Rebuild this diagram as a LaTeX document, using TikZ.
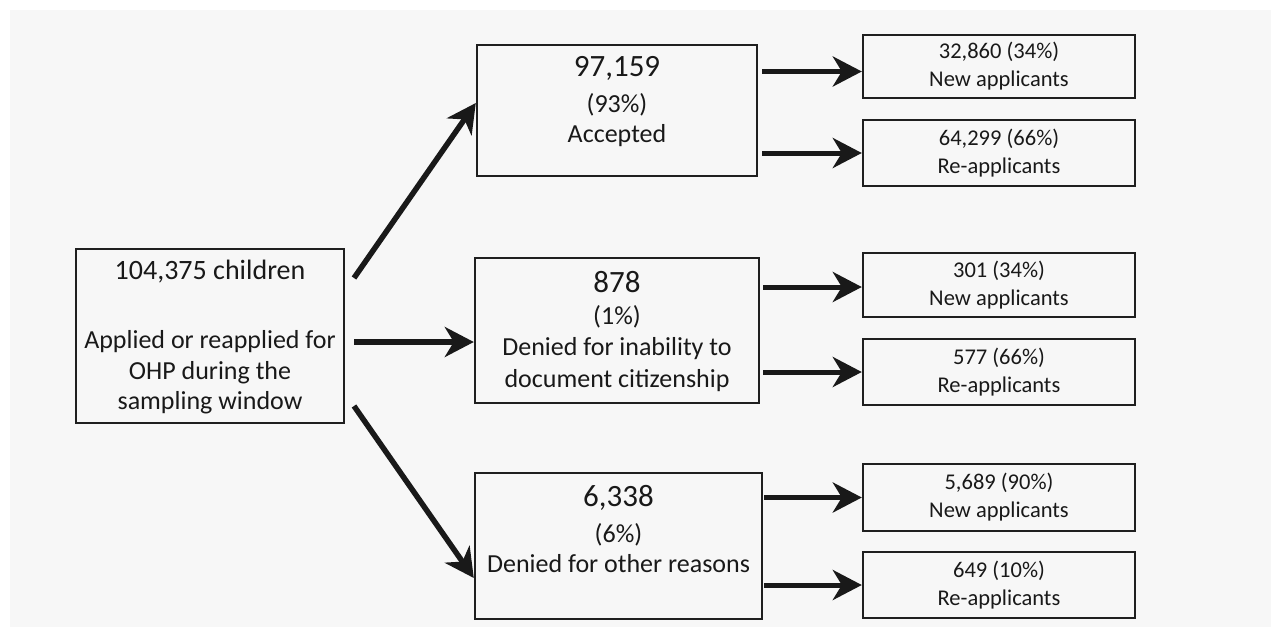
\documentclass[tikz,border=0pt]{standalone}
\usepackage{fontspec}
\setmainfont{Carlito}
\usetikzlibrary{arrows.meta,calc}
\begin{document}
\begin{tikzpicture}[x=1pt,y=-1pt,
  boxline/.style={draw=black!88, line width=2.4pt, inner sep=0pt},
  bigbox/.style={boxline},
  smallbox/.style={boxline, minimum width=272pt, align=center, text=black!90,
    font=\fontsize{22.5}{28}\selectfont},
  numtext/.style={inner sep=0pt, text=black!90, font=\fontsize{31}{36}\selectfont},
  bodytext/.style={inner sep=0pt, align=center, text=black!90, font=\fontsize{26}{30.5}\selectfont},
  bigarrow/.style={draw=black!90, line width=5.5pt, -{Stealth[length=29pt, width=30pt, inset=9pt]}},
  smallarrow/.style={draw=black!90, line width=5pt, -{Stealth[length=29pt, width=30pt, inset=9pt]}}
]
% page and scanned-paper background
\useasboundingbox (0,0) rectangle (1271,627);
\fill[white] (0,0) rectangle (1271,627);
\fill[black!3] (10,10) rectangle (1271,627);

% left box
\node[bigbox, minimum width=268pt, minimum height=174pt] (L) at (210,336) {};
\node[bodytext, font=\fontsize{28}{32}\selectfont] (Lt) at (210,272) {104,375 children};
\node[bodytext] (Lb) at (210,372.5) {Applied or reapplied for\\OHP during the\\sampling window};

% accepted box
\node[bigbox, minimum width=280pt, minimum height=131pt] (A) at (617,110.5) {};
\node[numtext] (An) at (617,68) {97,159};
\node[bodytext] (At) at (617,120) {(93\%)\\Accepted};

% denied citizenship box
\node[bigbox, minimum width=284pt, minimum height=145pt] (D) at (617,330.5) {};
\node[numtext] (Dn) at (617,282) {878};
\node[bodytext, font=\fontsize{26}{31.5}\selectfont] (Dt) at (617,348.5) {(1\%)\\Denied for inability to\\document citizenship};

% denied other box
\node[bigbox, minimum width=287pt, minimum height=146pt] (O) at (618.5,546) {};
\node[numtext] (On) at (618.5,498) {6,338};
\node[bodytext] (Ot) at (618.5,548) {(6\%)\\Denied for other reasons};

% small boxes
\node[smallbox, minimum height=63pt] (S1) at (999,66.5) {32,860 (34\%)\\New applicants};
\node[smallbox, minimum height=66pt] (S2) at (999,153) {64,299 (66\%)\\Re-applicants};
\node[smallbox, minimum height=64pt] (S3) at (999,285) {301 (34\%)\\New applicants};
\node[smallbox, minimum height=66pt] (S4) at (999,372) {577 (66\%)\\Re-applicants};
\node[smallbox, minimum height=67pt] (S5) at (999,497.5) {5,689 (90\%)\\New applicants};
\node[smallbox, minimum height=66pt] (S6) at (999,585) {649 (10\%)\\Re-applicants};

% start points of the big arrows
\coordinate (up0) at (354,278);
\coordinate (mid0) at (354,342);
\coordinate (dn0) at (354,406);

\draw[bigarrow] (up0) -- ([yshift=7.5pt]A.west);
\draw[bigarrow] (mid0) -- (mid0 -| D.west);
\draw[bigarrow] (dn0) -- ([yshift=-32pt]O.west);

% small arrows
\draw[smallarrow] ([xshift=4pt,yshift=-5pt]A.east |- S1.west) -- ([yshift=-5pt]S1.west);
\draw[smallarrow] ([xshift=4pt]A.east |- S2.west) -- (S2.west);
\draw[smallarrow] ([xshift=3pt,yshift=-2pt]D.east |- S3.west) -- ([yshift=-2pt]S3.west);
\draw[smallarrow] ([xshift=3pt]D.east |- S4.west) -- (S4.west);
\draw[smallarrow] ([xshift=1pt]O.east |- S5.west) -- (S5.west);
\draw[smallarrow] ([xshift=1pt]O.east |- S6.west) -- (S6.west);
\end{tikzpicture}
\end{document}
